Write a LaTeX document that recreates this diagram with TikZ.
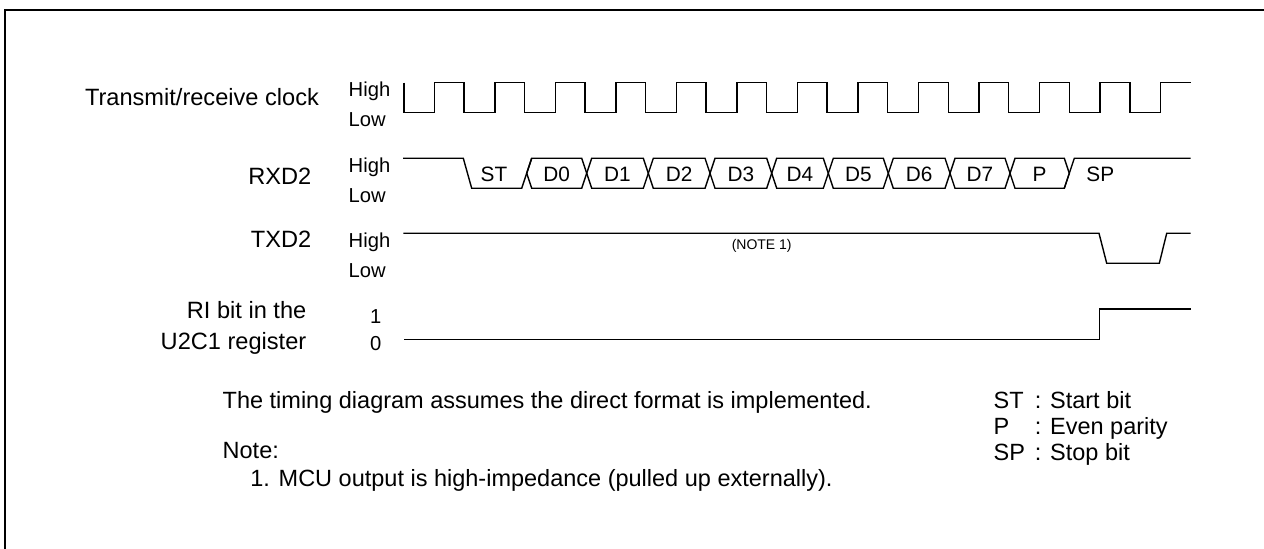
\documentclass[tikz,border=0pt]{standalone}
\usepackage{fontspec}
\setmainfont{Liberation Sans}

\tikzset{
  wave/.style={line width=0.7pt, line join=miter},
  signame/.style={font=\fontsize{11.8}{13}\selectfont, inner sep=0pt, anchor=base east},
  level/.style={font=\fontsize{10.1}{12}\selectfont, inner sep=0pt, anchor=base west},
  bitlbl/.style={font=\fontsize{10.4}{12}\selectfont, inner sep=0pt, anchor=base},
  note/.style={font=\fontsize{11.75}{14}\selectfont, inner sep=0pt, anchor=base west}
}

\begin{document}
\begin{tikzpicture}[x=0.5pt, y=-0.5pt]
  \useasboundingbox (0,0) rectangle (1264,549);
  % frame
  \draw[line width=1pt] (5,549) -- (5,10) -- (1264,10);

  % signal names
  \node[signame] (clk) at (319.3,106) {Transmit/receive clock};
  \node[signame] (rxd) at (311.7,184.3) {RXD2};
  \node[signame] (txd) at (311.7,248) {TXD2};
  \node[signame] (riA) at (306.7,318.3) {RI bit in the};
  \node[signame] (riB) at (306.7,350) {U2C1 register};

  % levels
  \foreach \y/\n in {82.7/clk, 158.3/rxd, 233.3/txd} {
    \node[level] (\n-hi) at (348.3,\y+14) {High};
    \node[level] (\n-lo) at (348.3,\y+44) {Low};
  }
  \node[level, anchor=base] (ri-hi) at (375.7,323.5) {1};
  \node[level, anchor=base] (ri-lo) at (375.7,351) {0};

  % clock
  \draw[wave] (404,82.7) -- (404,112.3)
    \foreach \k in {0,...,11} {
      -- ({434.3+60.53*\k},112.3) -- ++(0,-29.6)
      -- ({464+60.53*\k},82.7) -- ++(0,29.6)
    }
    -- (1160.7,112.3) -- (1160.7,82.7) -- (1190.7,82.7);

  % RXD2
  \draw[wave] (403,158.3) -- (463.3,158.3) -- (471.7,188.3) -- (521.7,188.3) -- (531.7,158.3);
  \node[bitlbl] (bit-ST) at (494,181.7) {ST};
  \foreach \a/\b/\t in {526.7/586.7/D0, 586.7/648.3/D1, 648.3/710/D2, 710/771.7/D3,
      771.7/828.3/D4, 828.3/888.3/D5, 888.3/950/D6, 950/1010/D7, 1010/1069.3/P} {
    \draw[wave] (\a,173.3) -- (\a+5,158.3) -- (\b-5,158.3) -- (\b,173.3)
      -- (\b-5,188.3) -- (\a+5,188.3) -- cycle;
    \node[bitlbl] (bit-\t) at ({(\a+\b)/2},181.7) {\t};
  }
  \draw[wave] (1064.3,188.3) -- (1074.3,158.3) -- (1190.7,158.3);
  \node[bitlbl] (bit-SP) at (1100.3,181.7) {SP};

  % TXD2
  \draw[wave] (403.3,233.3) -- (1099,233.3) -- (1106.7,263.3) -- (1159.3,263.3)
    -- (1166.7,233.3) -- (1190.7,233.3);
  \node[font=\fontsize{7}{8}\selectfont, inner sep=0pt] (note-ref) at (761.7,245.7) {(NOTE 1)};

  % RI bit
  \draw[wave] (404,339.3) -- (1099.3,339.3) -- (1099.3,309) -- (1190.7,309);

  % notes
  \node[note] (assume) at (222.3,408.3) {The timing diagram assumes the direct format is implemented.};
  \node[note] (note-hd) at (222.3,459) {Note:};
  \node[note] (note-one) at (250,486.7) {1. MCU output is high-impedance (pulled up externally).};

  % legend
  \node[note] (key-ST) at (993.3,408.3) {ST};
  \node[note] (key-P) at (993.3,435) {P};
  \node[note] (key-SP) at (993.3,461) {SP};
  \node[note] (def-ST) at (1034.5,408.3) {: Start bit};
  \node[note] (def-P) at (1034.5,435) {: Even parity};
  \node[note] (def-SP) at (1034.5,461) {: Stop bit};
\end{tikzpicture}
\end{document}
